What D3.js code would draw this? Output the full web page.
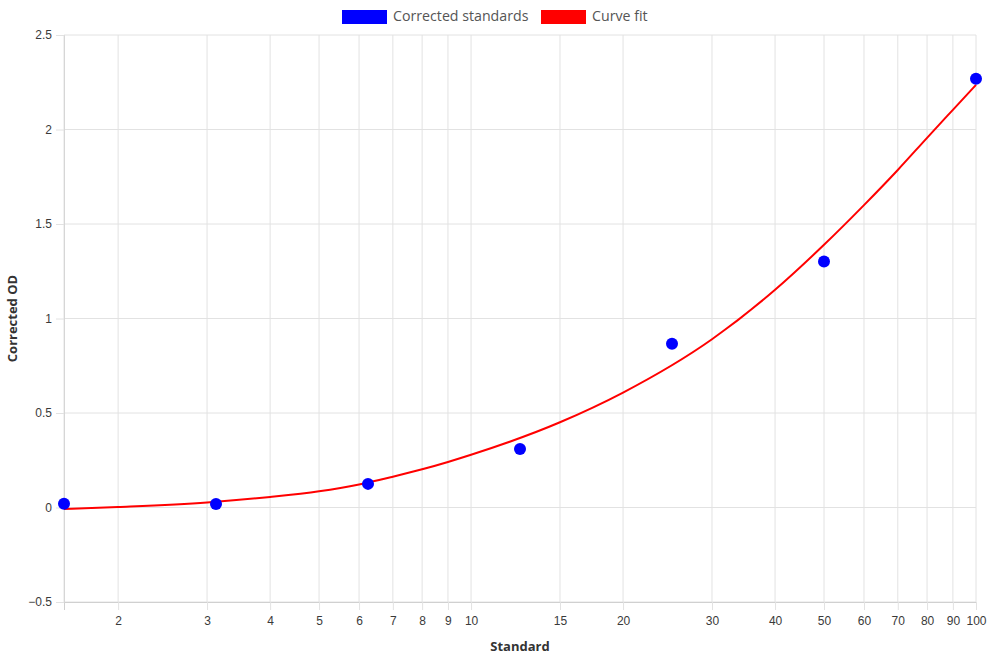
<!DOCTYPE html>
<html>
<head>
<meta charset="utf-8">
<script src="https://cdn.jsdelivr.net/npm/d3@7"></script>
<style>
  body { margin: 0; background: #fff; }
  svg { display: block; }
  .tick text { font-family: "Liberation Sans", Arial, sans-serif; font-size: 12px; fill: #3a3a3a; }
</style>
</head>
<body>
<div id="chart"></div>
<script>
// standards (concentration) and corrected OD
const standards = [1.5625, 3.125, 6.25, 12.5, 25, 50, 100];
const correctedOD = [0.02, 0.019, 0.125, 0.309, 0.866, 1.302, 2.268];

// curve fit
const fitX = [1.5625, 2, 3, 4, 5, 6, 7, 8, 9, 10, 15, 20, 30, 40, 50, 60, 70, 80, 90, 100];
const fitY = [-0.008, 0.003, 0.027, 0.056, 0.086, 0.122, 0.163, 0.202, 0.241, 0.279, 0.451, 0.608, 0.89, 1.152, 1.39, 1.6, 1.786, 1.956, 2.104, 2.236];

const xTicks = [2, 3, 4, 5, 6, 7, 8, 9, 10, 15, 20, 30, 40, 50, 60, 70, 80, 90, 100];
const yTicks = [-0.5, 0, 0.5, 1, 1.5, 2, 2.5];

const width = 990,
  height = 660,
  margin = { top: 35, right: 14, bottom: 58, left: 64 };

const svg = d3
  .select("#chart")
  .append("svg")
  .attr("width", width)
  .attr("height", height);

let x = d3
  .scaleLog()
  .domain([1.5625, 100])
  .range([margin.left, width - margin.right]);

let y = d3
  .scaleLinear()
  .domain([-0.5, 2.5])
  .range([height - margin.bottom, margin.top]);

const gridColor = "#e2e2e2";

// vertical grid
svg
  .append("g")
  .selectAll("line")
  .data([1.5625].concat(xTicks))
  .join("line")
  .attr("x1", (d) => x(d))
  .attr("x2", (d) => x(d))
  .attr("y1", margin.top)
  .attr("y2", height - margin.bottom)
  .attr("stroke", gridColor);

// horizontal grid
svg
  .append("g")
  .selectAll("line")
  .data(yTicks)
  .join("line")
  .attr("x1", margin.left)
  .attr("x2", width - margin.right)
  .attr("y1", (d) => y(d))
  .attr("y2", (d) => y(d))
  .attr("stroke", gridColor);

// y axis
const yAxis = svg
  .append("g")
  .attr("transform", `translate(${margin.left},0)`)
  .call(d3.axisLeft(y).tickValues(yTicks).tickSize(8).tickPadding(4).tickFormat(d3.format("")));
yAxis.select(".domain").attr("stroke", "#d6d6d6");
yAxis.selectAll(".tick line").attr("stroke", gridColor);

// x axis
const xAxis = svg
  .append("g")
  .attr("transform", `translate(0,${height - margin.bottom})`)
  .call(d3.axisBottom(x).tickValues(xTicks).tickSize(8).tickPadding(6).tickFormat(d3.format("")));
xAxis.select(".domain").attr("stroke", "#d0d0d0");
xAxis.selectAll(".tick line").attr("stroke", gridColor);

// axis titles
svg
  .append("text")
  .text("Standard")
  .attr("x", (margin.left + width - margin.right) / 2)
  .attr("y", 651)
  .attr("text-anchor", "middle")
  .attr("font-family", "'Open Sans', sans-serif")
  .attr("font-weight", "bold")
  .attr("font-size", 13)
  .attr("fill", "#333");

svg
  .append("text")
  .text("Corrected OD")
  .attr("transform", `translate(17,${(margin.top + height - margin.bottom) / 2}) rotate(-90)`)
  .attr("text-anchor", "middle")
  .attr("font-family", "'Open Sans', sans-serif")
  .attr("font-weight", "bold")
  .attr("font-size", 13)
  .attr("fill", "#333");

// curve fit
const fitData = fitX.map((v, i) => ({ x: v, y: fitY[i] }));
let line = d3
  .line()
  .x((d) => x(d.x))
  .y((d) => y(d.y))
  .curve(d3.curveMonotoneX);

svg
  .append("path")
  .datum(fitData)
  .attr("d", line)
  .attr("fill", "none")
  .attr("stroke", "#ff0000")
  .attr("stroke-width", 2);

// standards
svg
  .append("g")
  .selectAll("circle")
  .data(standards.map((v, i) => ({ x: v, y: correctedOD[i] })))
  .join("circle")
  .attr("cx", (d) => x(d.x))
  .attr("cy", (d) => y(d.y))
  .attr("r", 6)
  .attr("fill", "#0000ff");

// legend
const legendItems = [
  { label: "Corrected standards", color: "#0000ff", x: 342 },
  { label: "Curve fit", color: "#ff0000", x: 541 },
];
const legend = svg.append("g");
for (let item of legendItems) {
  legend
    .append("rect")
    .attr("x", item.x)
    .attr("y", 10)
    .attr("width", 45)
    .attr("height", 14)
    .attr("fill", item.color);
  legend
    .append("text")
    .text(item.label)
    .attr("x", item.x + 51)
    .attr("y", 17)
    .attr("dominant-baseline", "middle")
    .attr("font-family", "'Open Sans', sans-serif")
    .attr("font-size", 14.2)
    .attr("fill", "#555");
}
</script>
</body>
</html>
